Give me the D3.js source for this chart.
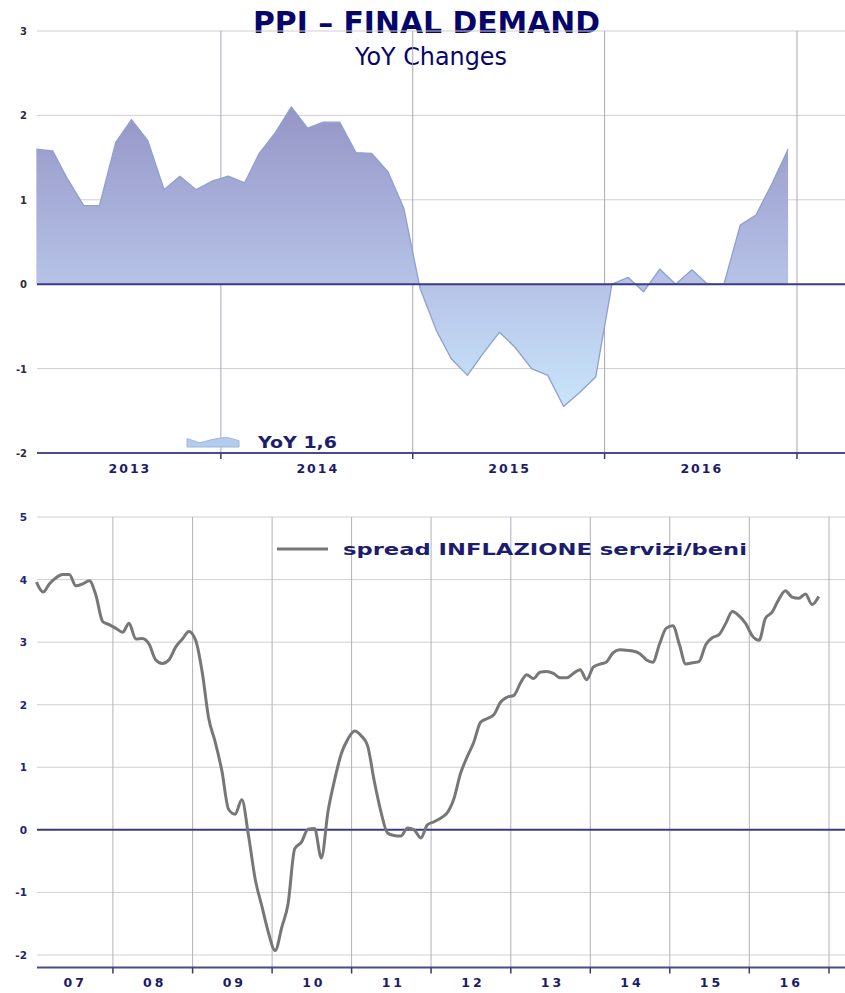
<!DOCTYPE html>
<html><head><meta charset="utf-8">
<script src="https://cdn.jsdelivr.net/npm/d3@7"></script>
<style>body{margin:0;background:#fff}svg{display:block}</style>
</head><body>
<svg id="c" width="845" height="993"></svg>
<script>
// ---------- DATA ----------
const titleText = "PPI \u2013 FINAL DEMAND";
const subtitleText = "YoY Changes";

// PPI final demand YoY, monthly, Jan 2013 - Dec 2016
const ppiStart = "2013-01";
const ppiYoY = [
  1.60, 1.58, 1.25, 0.93, 0.93, 1.68, 1.95, 1.70, 1.12, 1.28, 1.12, 1.22,
  1.28, 1.20, 1.55, 1.80, 2.10, 1.85, 1.92, 1.92, 1.56, 1.55, 1.33, 0.90,
  -0.05, -0.55, -0.88, -1.08, -0.82, -0.57, -0.75, -1.00, -1.08, -1.45, -1.28, -1.10,
  0.00, 0.08, -0.09, 0.18, 0.00, 0.17, 0.00, 0.00, 0.70, 0.82, 1.20, 1.60
];
const topYearLabels = ["2013", "2014", "2015", "2016"];
const topYTicks = [3, 2, 1, 0, -1, -2];
const topLegend = "YoY 1,6";

// spread inflazione servizi/beni, monthly, Jan 2007 - Nov 2016
const spreadStart = "2007-01";
const spread = [
  3.96, 3.80, 3.93, 4.03, 4.08, 4.08, 3.90, 3.93, 3.98, 3.75, 3.33, 3.28,
  3.22, 3.16, 3.30, 3.05, 3.06, 2.97, 2.72, 2.66, 2.72, 2.92, 3.05, 3.17,
  3.03, 2.50, 1.80, 1.40, 0.95, 0.33, 0.25, 0.48, -0.10, -0.78, -1.22, -1.64,
  -1.93, -1.55, -1.19, -0.30, -0.20, 0.01, 0.02, -0.45, 0.30, 0.80, 1.22, 1.45,
  1.58, 1.50, 1.35, 0.78, 0.30, -0.05, -0.09, -0.10, 0.03, 0.00, -0.13, 0.08,
  0.13, 0.19, 0.27, 0.50, 0.90, 1.17, 1.40, 1.72, 1.78, 1.84, 2.04, 2.12,
  2.15, 2.35, 2.48, 2.42, 2.52, 2.53, 2.50, 2.43, 2.43, 2.50, 2.56, 2.40,
  2.60, 2.65, 2.68, 2.83, 2.88, 2.87, 2.86, 2.82, 2.72, 2.68, 2.97, 3.22,
  3.26, 2.95, 2.65, 2.67, 2.69, 2.96, 3.07, 3.12, 3.30, 3.49, 3.42, 3.30,
  3.10, 3.03, 3.38, 3.48, 3.68, 3.82, 3.72, 3.70, 3.77, 3.60, 3.73
];
const bottomYearLabels = ["07", "08", "09", "10", "11", "12", "13", "14", "15", "16"];
const bottomYTicks = [5, 4, 3, 2, 1, 0, -1, -2];
const bottomLegend = "spread INFLAZIONE servizi/beni";

// ---------- HELPERS ----------
const svg = d3.select("#c");
const parse = d3.timeParse("%Y-%m");
function monthly(start, vals) {
  const s = parse(start);
  return vals.map((v, i) => ({ date: d3.timeDay.offset(d3.timeMonth.offset(s, i), 14), v }));
}
const FONT = "'DejaVu Sans', Verdana, sans-serif";
const plotL = 37, plotR = 845;

// ---------- TITLE ----------
svg.append("text").attr("x", 426.5).attr("y", 33).attr("text-anchor", "middle")
  .attr("font-family", FONT).attr("font-weight", "bold").attr("font-size", 30)
  .attr("fill", "#06066a").attr("textLength", 347).attr("lengthAdjust", "spacingAndGlyphs")
  .text(titleText);
svg.append("text").attr("x", 431).attr("y", 65).attr("text-anchor", "middle")
  .attr("font-family", FONT).attr("font-size", 24)
  .attr("fill", "#06066a").attr("textLength", 152).attr("lengthAdjust", "spacingAndGlyphs")
  .text(subtitleText);

// ---------- TOP CHART ----------
const topData = monthly(ppiStart, ppiYoY);
const topYears = topYearLabels.map(y => new Date(+y, 0, 1));
const xT = d3.scaleTime().domain([new Date(2013, 0, 1), new Date(2017, 0, 1)]).range([29, 797]);
const yT = d3.scaleLinear().domain([-2, 3]).range([453, 31]);

const defs = svg.append("defs");
const g1 = defs.append("linearGradient").attr("id", "gTop")
  .attr("gradientUnits", "userSpaceOnUse").attr("x1", 0).attr("x2", 0)
  .attr("y1", yT(2.1)).attr("y2", yT(-1.5));
const zOff = (yT(0) - yT(2.1)) / (yT(-1.5) - yT(2.1));
g1.append("stop").attr("offset", 0).attr("stop-color", "#9595c6");
g1.append("stop").attr("offset", zOff).attr("stop-color", "#b6c3e7");
g1.append("stop").attr("offset", 1).attr("stop-color", "#c9e6fb");

const topG = svg.append("g");
topG.selectAll(".hg").data(topYTicks.filter(t => t !== 0 && t !== -2)).join("line")
  .attr("x1", plotL).attr("x2", plotR).attr("y1", d => yT(d)).attr("y2", d => yT(d))
  .attr("stroke", "#cfcfcf").attr("stroke-width", 1);
const topBounds = topYears.slice(1).concat([new Date(2017, 0, 1)]);
topG.selectAll(".vg").data(topBounds).join("line")
  .attr("x1", d => xT(d)).attr("x2", d => xT(d)).attr("y1", yT(3)).attr("y2", yT(-2))
  .attr("stroke", "#a8a8b4").attr("stroke-width", 1);

const areaT = d3.area().x(d => xT(d.date)).y0(yT(0)).y1(d => yT(d.v));
topG.append("path").datum(topData).attr("d", areaT).attr("fill", "url(#gTop)");
const lineT = d3.line().x(d => xT(d.date)).y(d => yT(d.v));
topG.append("path").datum(topData).attr("d", lineT).attr("fill", "none")
  .attr("stroke", "#8e9fd0").attr("stroke-width", 1.3).attr("stroke-linejoin", "round");

topG.append("line").attr("x1", plotL).attr("x2", plotR).attr("y1", yT(0)).attr("y2", yT(0))
  .attr("stroke", "#3a3a86").attr("stroke-width", 2);
topG.append("line").attr("x1", plotL).attr("x2", plotR).attr("y1", yT(-2)).attr("y2", yT(-2))
  .attr("stroke", "#4a4a8c").attr("stroke-width", 2);
topG.selectAll(".tk").data(topBounds).join("line")
  .attr("x1", d => xT(d)).attr("x2", d => xT(d)).attr("y1", yT(-2)).attr("y2", yT(-2) + 6)
  .attr("stroke", "#3a3a70").attr("stroke-width", 1.5);

topG.selectAll(".yl").data(topYTicks).join("text")
  .attr("x", 27).attr("y", d => yT(d) + 4).attr("text-anchor", "end")
  .attr("font-family", FONT).attr("font-weight", "bold").attr("font-size", 10)
  .attr("fill", "#2c2c3c").text(d => d);
topG.selectAll(".xl").data(topYears).join("text")
  .attr("x", d => (Math.max(xT(d), plotL) + xT(d3.timeYear.offset(d, 1))) / 2 + 1)
  .attr("y", 473).attr("text-anchor", "middle")
  .attr("font-family", FONT).attr("font-weight", "bold").attr("font-size", 12.5)
  .attr("letter-spacing", 2).attr("fill", "#1c1c66")
  .text((d, i) => topYearLabels[i]);

const legSample = [0.6, 0.3, 0.55, 0.7, 0.45];
const lx = d3.scaleLinear().domain([0, legSample.length - 1]).range([187, 239]);
const ly = d3.scaleLinear().domain([0, 1]).range([447, 433]);
topG.append("path").datum(legSample)
  .attr("d", d3.area().x((d, i) => lx(i)).y0(447).y1(d => ly(d)))
  .attr("fill", "#b3cbec").attr("stroke", "#9fb6e0").attr("stroke-width", 1);
topG.append("text").attr("x", 258).attr("y", 448)
  .attr("font-family", FONT).attr("font-weight", "bold").attr("font-size", 15)
  .attr("fill", "#1c1c70").attr("textLength", 79).attr("lengthAdjust", "spacingAndGlyphs")
  .text(topLegend);

// ---------- BOTTOM CHART ----------
const botData = monthly(spreadStart, spread);
const botYears = bottomYearLabels.map(y => new Date(2000 + (+y), 0, 1));
const xB = d3.scaleTime().domain([new Date(2007, 0, 1), new Date(2017, 0, 1)]).range([33.4, 829]);
const yB = d3.scaleLinear().domain([-2, 5]).range([955, 517]);
const axisY = yB(-2.2);

const botG = svg.append("g");
botG.selectAll(".hg").data(bottomYTicks.filter(t => t !== 0)).join("line")
  .attr("x1", plotL).attr("x2", plotR).attr("y1", d => yB(d)).attr("y2", d => yB(d))
  .attr("stroke", "#d0d0d0").attr("stroke-width", 1);
const botBounds = botYears.slice(1).concat([new Date(2017, 0, 1)]);
botG.selectAll(".vg").data(botBounds).join("line")
  .attr("x1", d => xB(d)).attr("x2", d => xB(d)).attr("y1", yB(5)).attr("y2", axisY)
  .attr("stroke", "#b0b0bc").attr("stroke-width", 1);
botG.append("line").attr("x1", plotL).attr("x2", plotR).attr("y1", yB(0)).attr("y2", yB(0))
  .attr("stroke", "#3a3a86").attr("stroke-width", 2);
botG.append("line").attr("x1", plotL).attr("x2", plotR).attr("y1", axisY).attr("y2", axisY)
  .attr("stroke", "#4a4a8c").attr("stroke-width", 2);
botG.selectAll(".tk").data(botBounds).join("line")
  .attr("x1", d => xB(d)).attr("x2", d => xB(d)).attr("y1", axisY).attr("y2", axisY + 6)
  .attr("stroke", "#3a3a70").attr("stroke-width", 1.5);

const lineB = d3.line().x(d => xB(d.date)).y(d => yB(d.v)).curve(d3.curveMonotoneX);
botG.append("path").datum(botData).attr("d", lineB).attr("fill", "none")
  .attr("stroke", "#777777").attr("stroke-width", 3).attr("stroke-linejoin", "round");

botG.selectAll(".yl").data(bottomYTicks).join("text")
  .attr("x", 27).attr("y", d => yB(d) + 4).attr("text-anchor", "end")
  .attr("font-family", FONT).attr("font-weight", "bold").attr("font-size", 10.5)
  .attr("fill", "#23237a").text(d => d);
botG.selectAll(".xl").data(botYears).join("text")
  .attr("x", d => (xB(d) + xB(d3.timeYear.offset(d, 1))) / 2 + 2)
  .attr("y", 987).attr("text-anchor", "middle")
  .attr("font-family", FONT).attr("font-weight", "bold").attr("font-size", 12.5)
  .attr("letter-spacing", 3).attr("fill", "#1c1c66")
  .text((d, i) => bottomYearLabels[i]);

botG.append("line").attr("x1", 277).attr("x2", 328).attr("y1", 549).attr("y2", 549)
  .attr("stroke", "#777777").attr("stroke-width", 3);
botG.append("text").attr("x", 343).attr("y", 555)
  .attr("font-family", FONT).attr("font-weight", "bold").attr("font-size", 15)
  .attr("fill", "#1c1c70").attr("textLength", 404).attr("lengthAdjust", "spacingAndGlyphs")
  .text(bottomLegend);
</script>
</body></html>
